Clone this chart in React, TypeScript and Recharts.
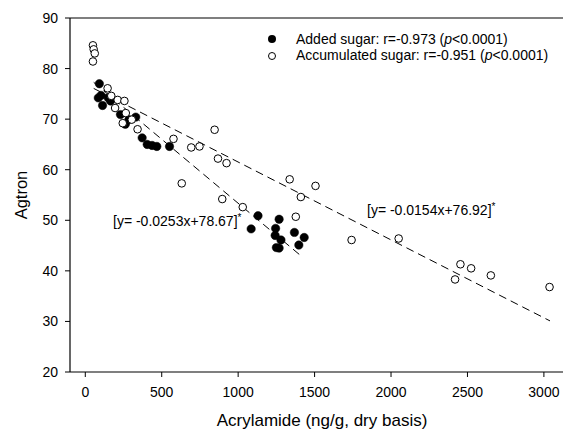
import React from "react";
import {
  ScatterChart,
  Scatter,
  XAxis,
  YAxis,
  ReferenceLine,
  Legend,
} from "recharts";

// Added sugar (filled circles): [acrylamide, agtron]
const addedX = [92, 85, 103, 113, 150, 165, 230, 262, 285, 330, 372, 405, 437, 468, 551, 1085, 1130, 1268, 1245, 1242, 1280, 1250, 1268, 1368, 1397, 1432];
const addedY = [77.0, 74.2, 74.7, 72.7, 74.2, 73.6, 70.9, 69.0, 69.9, 70.4, 66.3, 65.0, 64.8, 64.6, 64.6, 48.3, 50.9, 50.2, 48.4, 47.0, 46.1, 44.6, 44.5, 47.6, 45.1, 46.6];

// Accumulated sugar (open circles)
const accumX = [50, 55, 62, 50, 146, 170, 212, 256, 195, 265, 245, 304, 342, 577, 693, 747, 846, 868, 924, 631, 896, 1030, 1337, 1377, 1410, 1506, 1742, 2050, 2454, 2524, 2419, 2653, 3037];
const accumY = [84.6, 83.8, 83.0, 81.4, 76.1, 74.6, 73.8, 73.6, 72.2, 71.2, 69.2, 69.9, 68.0, 66.1, 64.4, 64.6, 67.9, 62.2, 61.3, 57.3, 54.2, 52.6, 58.1, 50.7, 54.6, 56.8, 46.1, 46.4, 41.3, 40.5, 38.3, 39.1, 36.8];

// Regression fits: [added, accumulated]
const fitSlope = [-0.0253, -0.0154];
const fitIntercept = [78.67, 76.92];
const fitStart = [55, 55];
const fitEnd = [1420, 3040];

const xTicks = [0, 500, 1000, 1500, 2000, 2500, 3000];
const yTicks = [20, 30, 40, 50, 60, 70, 80, 90];

const legendLabels = [
  { name: "Added sugar: r=-0.973 (", italic: "p", rest: "<0.0001)", filled: true },
  { name: "Accumulated sugar: r=-0.951 (", italic: "p", rest: "<0.0001)", filled: false },
];

const addedData = addedX.map((x, i) => ({ x, y: addedY[i] }));
const accumData = accumX.map((x, i) => ({ x, y: accumY[i] }));

const FONT = "'Liberation Sans', Arial, sans-serif";

const FilledDot = (props: any) => (
  <circle cx={props.cx} cy={props.cy} r={4.2} fill="#000" stroke="#000" strokeWidth={0.5} />
);
const OpenDot = (props: any) => (
  <circle cx={props.cx} cy={props.cy} r={3.8} fill="#fff" stroke="#000" strokeWidth={1} />
);

const renderLegend = () => (
  <div style={{ fontFamily: FONT, fontSize: 14, color: "#000" }}>
    {legendLabels.map((l, i) => (
      <div key={i} style={{ display: "flex", alignItems: "center", height: 16.7 }}>
        <svg width={12} height={12} style={{ display: "block" }}>
          {l.filled ? (
            <circle cx={6} cy={6} r={4} fill="#000" />
          ) : (
            <circle cx={6} cy={6} r={3.5} fill="#fff" stroke="#000" strokeWidth={1} />
          )}
        </svg>
        <span style={{ marginLeft: 18, whiteSpace: "nowrap", lineHeight: "16.7px" }}>
          {l.name}
          <i>{l.italic}</i>
          {l.rest}
        </span>
      </div>
    ))}
  </div>
);

export default function App() {
  return (
    <div style={{ position: "absolute", left: 0, top: 0, width: 563, height: 429, background: "#fff" }}>
      <ScatterChart
        width={563}
        height={429}
        margin={{ top: 18, right: 0, bottom: 0, left: 0 }}
        style={{ fontFamily: FONT }}
      >
        <XAxis
          type="number"
          dataKey="x"
          domain={[-100, 3125]}
          ticks={xTicks}
          allowDataOverflow
          height={57}
          tickSize={5}
          tickMargin={10}
          axisLine={{ stroke: "#000", strokeWidth: 1.2 }}
          tickLine={{ stroke: "#000" }}
          tick={{ fill: "#000", fontSize: 14, fontFamily: FONT }}
        />
        <YAxis
          type="number"
          dataKey="y"
          domain={[20, 90]}
          ticks={yTicks}
          allowDataOverflow
          width={70}
          tickSize={5}
          tickMargin={7}
          axisLine={{ stroke: "#000", strokeWidth: 1.2 }}
          tickLine={{ stroke: "#000" }}
          tick={{ fill: "#000", fontSize: 14, fontFamily: FONT }}
        />
        <ReferenceLine y={90} stroke="#000" strokeWidth={1.2} />
        {fitSlope.map((m, i) => (
          <ReferenceLine
            key={i}
            segment={[
              { x: fitStart[i], y: fitIntercept[i] + m * fitStart[i] },
              { x: fitEnd[i], y: fitIntercept[i] + m * fitEnd[i] },
            ]}
            stroke="#000"
            strokeWidth={1}
            strokeDasharray="8 5"
          />
        ))}
        <Scatter name="Added sugar" data={addedData} shape={FilledDot} isAnimationActive={false} />
        <Scatter name="Accumulated sugar" data={accumData} shape={OpenDot} isAnimationActive={false} />
        <Legend
          layout="vertical"
          align="center"
          verticalAlign="middle"
          content={renderLegend}
          wrapperStyle={{ position: "absolute", left: 266, top: 30.5, width: 300, height: 34 }}
        />
        <text x={322} y={426} textAnchor="middle" fontSize={17} fontFamily={FONT} fill="#000">
          Acrylamide (ng/g, dry basis)
        </text>
        <text
          x={27}
          y={195}
          textAnchor="middle"
          fontSize={16.5}
          fontFamily={FONT}
          fill="#000"
          transform="rotate(-90 27 195)"
        >
          Agtron
        </text>
        <text x={113} y={225.5} fontSize={14} fontFamily={FONT} fill="#000">
          [y= -0.0253x+78.67]<tspan fontSize={10} dy={-5}>*</tspan>
        </text>
        <text x={367} y={215} fontSize={14} fontFamily={FONT} fill="#000">
          [y= -0.0154x+76.92]<tspan fontSize={10} dy={-5}>*</tspan>
        </text>
      </ScatterChart>
    </div>
  );
}
